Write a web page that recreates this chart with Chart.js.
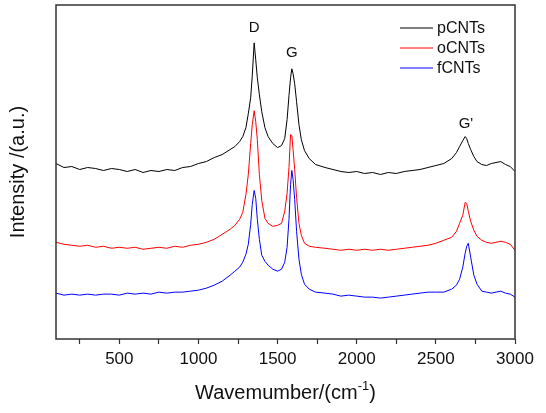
<!DOCTYPE html>
<html lang="en">
<head>
    <meta charset="UTF-8">
    <title>Raman spectra of CNTs</title>
    <script src="https://cdn.jsdelivr.net/npm/chart.js"></script>
    <style>
        body { margin: 0; background: #fff; }
    </style>
</head>
<body>
    <canvas id="ramanChart" width="546" height="413"></canvas>

    <script>
// wavenumber (cm-1) shared by the three spectra
const wavenumber = [100, 150, 200, 250, 300, 350, 400, 450, 500, 550, 600, 650, 700, 750, 800, 850, 900, 950,
    1000, 1050, 1100, 1150, 1200, 1230, 1260, 1280, 1300, 1315, 1330, 1340, 1352, 1362, 1372, 1385, 1400,
    1420, 1440, 1470, 1500, 1525, 1545, 1560, 1572, 1582, 1590, 1598, 1608, 1620, 1635, 1650, 1670, 1700,
    1740, 1800, 1850, 1900, 1950, 2000, 2050, 2100, 2150, 2200, 2250, 2300, 2350, 2400, 2450, 2500, 2550,
    2600, 2630, 2650, 2670, 2685, 2695, 2705, 2720, 2740, 2760, 2790, 2820, 2850, 2880, 2910, 2940, 2970, 3000];

// intensities (a.u., already offset as in the figure)
const pCNTs = [176, 172, 173, 170, 172, 171, 169, 171, 170, 168, 170, 167, 169, 168, 170, 169, 172, 173,
    176, 178, 182, 185, 190, 193, 198, 203, 212, 226, 242, 264, 297, 280, 262, 245, 228,
    212, 203, 196, 192, 194, 201, 220, 244, 262, 271, 266, 256, 238, 215, 200, 189, 181,
    175, 172, 170, 168, 167, 168, 166, 167, 165, 167, 166, 168, 169, 170, 172, 174, 176,
    181, 187, 193, 199, 203, 201, 196, 190, 183, 178, 175, 174, 176, 177, 178, 175, 173, 168];

const oCNTs = [97, 95, 94, 93, 94, 92, 93, 91, 92, 91, 92, 90, 91, 92, 91, 93, 92, 94,
    95, 97, 100, 105, 110, 114, 120, 127, 145, 165, 196, 215, 229, 218, 200, 165, 139,
    121, 116, 113, 114, 116, 128, 146, 172, 205, 204, 190, 170, 142, 116, 104, 96, 93,
    92, 91, 90, 89, 90, 89, 90, 89, 90, 89, 90, 91, 92, 93, 94, 96, 99,
    102, 108, 116, 124, 137, 136, 128, 118, 109, 103, 99, 97, 96, 97, 98, 97, 95, 89];

const fCNTs = [46, 44, 45, 44, 45, 44, 45, 45, 44, 46, 45, 46, 45, 47, 46, 47, 47, 48,
    49, 51, 54, 58, 64, 68, 72, 77, 85, 95, 115, 135, 149, 141, 120, 100, 84,
    78, 74, 70, 68, 70, 77, 92, 120, 155, 169, 160, 140, 108, 80, 65, 55, 50,
    47, 46, 45, 43, 44, 43, 42, 42, 41, 42, 43, 44, 45, 46, 47, 47, 47,
    50, 54, 60, 72, 86, 93, 96, 82, 64, 55, 48, 47, 46, 47, 48, 46, 45, 42];

const xTicks = [250, 500, 750, 1000, 1250, 1500, 1750, 2000, 2250, 2500, 2750, 3000];

// peak names and where they are written
const peakNames = ["D", "G", "G'"];
const peakX = [1352, 1590, 2690];
const peakY = [312, 287, 216];

const seriesNames = ["pCNTs", "oCNTs", "fCNTs"];
const seriesColors = ["#000000", "#ff0000", "#0000ff"];

const FONT = "'Liberation Sans', Arial, sans-serif";

function toPoints(ys) {
    return wavenumber.map((x, i) => ({ x: x, y: ys[i] }));
}

const framePlugin = {
    id: "frame",
    afterDraw(chart) {
        const ctx = chart.ctx;
        const a = chart.chartArea;
        const xs = chart.scales.x;
        const ys = chart.scales.y;
        ctx.save();

        // box round the plot
        ctx.strokeStyle = "#333";
        ctx.lineWidth = 1.5;
        ctx.strokeRect(a.left, a.top, a.right - a.left, a.bottom - a.top);

        // peak labels
        ctx.fillStyle = "#111";
        ctx.font = "15px " + FONT;
        ctx.textAlign = "center";
        ctx.textBaseline = "middle";
        peakNames.forEach((t, i) => {
            ctx.fillText(t, xs.getPixelForValue(peakX[i]), ys.getPixelForValue(peakY[i]));
        });

        // legend
        ctx.textAlign = "left";
        ctx.font = "16px " + FONT;
        seriesNames.forEach((name, i) => {
            const y = 28 + i * 20;
            ctx.strokeStyle = seriesColors[i];
            ctx.lineWidth = 1;
            ctx.beginPath();
            ctx.moveTo(400, y);
            ctx.lineTo(433, y);
            ctx.stroke();
            ctx.fillStyle = "#111";
            ctx.fillText(name, 437, y + 1);
        });

        // x title with superscript
        const main = "Wavemumber/(cm";
        const sup = "-1";
        const end = ")";
        const big = "20px " + FONT;
        const small = "13px " + FONT;
        ctx.font = big;
        const w1 = ctx.measureText(main).width;
        const w3 = ctx.measureText(end).width;
        ctx.font = small;
        const w2 = ctx.measureText(sup).width;
        let x = (a.left + a.right) / 2 - (w1 + w2 + w3) / 2;
        const base = 399;
        ctx.textBaseline = "alphabetic";
        ctx.font = big;
        ctx.fillText(main, x, base);
        x += w1;
        ctx.font = small;
        ctx.fillText(sup, x, base - 9);
        x += w2;
        ctx.font = big;
        ctx.fillText(end, x, base);
        ctx.restore();
    }
};

const ctx = document.getElementById("ramanChart").getContext("2d");
new Chart(ctx, {
    type: "scatter",
    data: {
        datasets: [pCNTs, oCNTs, fCNTs].map((ys, i) => ({
            label: seriesNames[i],
            data: toPoints(ys),
            showLine: true,
            borderColor: seriesColors[i],
            backgroundColor: seriesColors[i],
            borderWidth: 1,
            pointRadius: 0,
            tension: 0
        }))
    },
    options: {
        responsive: false,
        animation: false,
        layout: { padding: { top: 5, right: 31, left: 0, bottom: 0 } },
        plugins: {
            legend: { display: false },
            tooltip: { enabled: false }
        },
        scales: {
            x: {
                type: "linear",
                min: 100,
                max: 3000,
                afterBuildTicks: (scale) => { scale.ticks = xTicks.map(v => ({ value: v })); },
                afterFit: (scale) => { scale.height = 74; },
                border: { display: false },
                grid: {
                    drawOnChartArea: false,
                    drawTicks: true,
                    tickLength: 5,
                    tickColor: "#333",
                    tickWidth: 1.2
                },
                ticks: {
                    padding: 5,
                    color: "#111",
                    maxRotation: 0,
                    autoSkip: false,
                    font: { family: FONT, size: 17 },
                    callback: (v) => (v % 500 === 0 ? v : "")
                }
            },
            y: {
                min: 0,
                max: 335,
                afterFit: (scale) => { scale.width = 56; },
                border: { display: false },
                grid: { display: false },
                ticks: { display: false },
                title: {
                    display: true,
                    text: "Intensity /(a.u.)",
                    color: "#111",
                    padding: { top: 6, bottom: 0 },
                    font: { family: FONT, size: 20 }
                }
            }
        }
    },
    plugins: [framePlugin]
});
    </script>
</body>
</html>
